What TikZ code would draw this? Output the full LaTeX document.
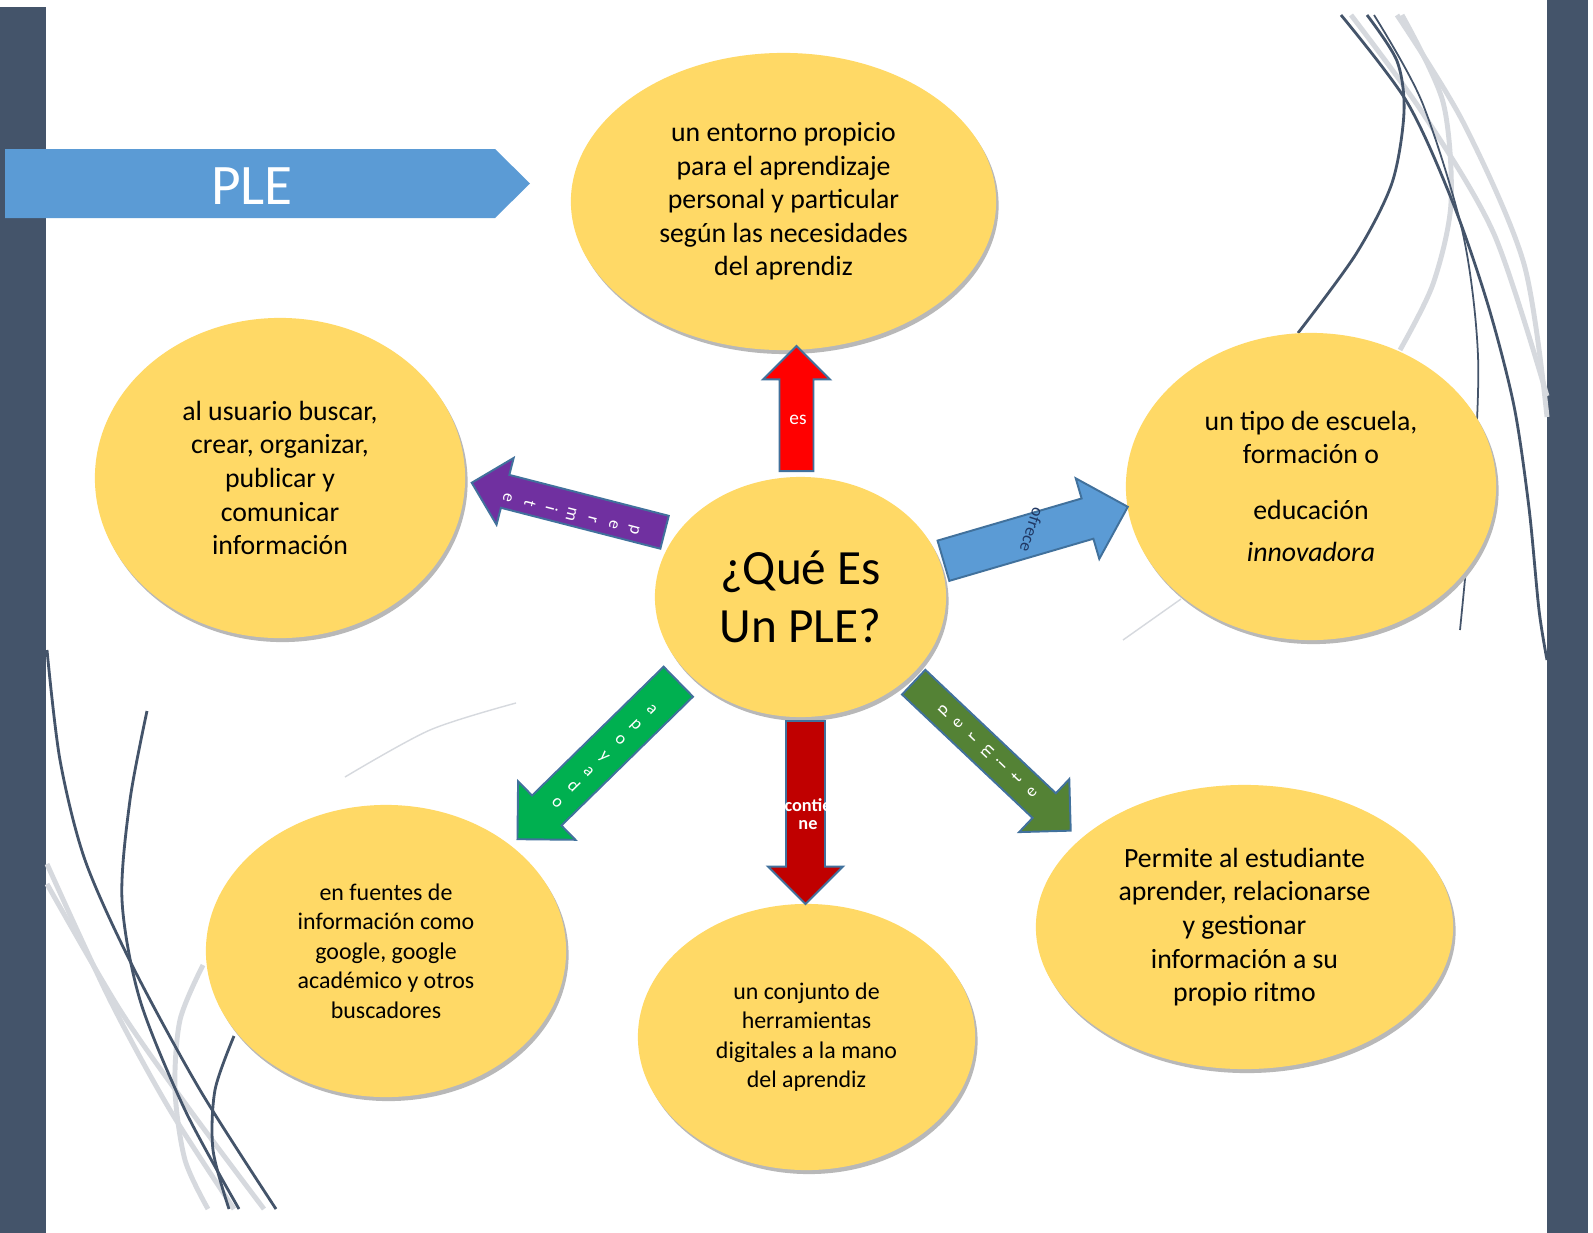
\documentclass[tikz,border=0pt]{standalone}
\usepackage{fontspec}
\setmainfont{Carlito}
\usetikzlibrary{shapes.geometric,shapes.arrows,shadows}

\definecolor{bandgray}{HTML}{44546A}
\definecolor{swooshgray}{HTML}{D6D9DE}
\definecolor{bubblefill}{HTML}{FFD966}
\definecolor{bannerblue}{HTML}{5B9BD5}
\definecolor{arrowedge}{HTML}{41719C}
\definecolor{esred}{HTML}{FF0000}
\definecolor{darkred}{HTML}{C00000}
\definecolor{lilac}{HTML}{7030A0}
\definecolor{leafgreen}{HTML}{00B050}
\definecolor{olivegreen}{HTML}{548235}
\definecolor{navytext}{HTML}{203864}

\tikzset{
  bubble/.style={ellipse, fill=bubblefill, inner sep=0pt, align=center,
    drop shadow={shadow xshift=0.025cm, shadow yshift=-0.04cm, fill=black!28, opacity=1},
    font=\fontsize{7.9}{9.55}\selectfont},
  smallbubble/.style={bubble, font=\fontsize{6.8}{8.4}\selectfont},
  blockarrow/.style={single arrow, draw=arrowedge, line width=0.55pt, anchor=tail,
    inner xsep=0pt, minimum width=0pt},
  arrowword/.style={text=white, inner sep=0pt, align=center, font=\fontsize{5.5}{6}\selectfont},
  stackletter/.style={text=white, inner sep=0pt, text height=3.6pt, text depth=1.1pt,
    font=\fontsize{5}{6}\selectfont},
  swoosh/.style={draw=bandgray, line width=0.8pt},
  lightswoosh/.style={draw=swooshgray, line width=1.4pt},
}

\begin{document}
\begin{tikzpicture}[x=0.01cm, y=-0.01cm]
    \useasboundingbox[fill=white] (0,0) rectangle (1593,1233);

    % side bands
    \fill[bandgray] (0,7) rectangle (46,1233);
    \fill[bandgray] (1547,0) rectangle (1588,1233);

    % swooshes top right
    \draw[lightswoosh] plot[smooth] coordinates {(1351,15) (1422,112) (1494,234) (1547,396)};
    \draw[lightswoosh] plot[smooth] coordinates {(1397,15) (1463,122) (1524,264) (1547,417)};
    \draw[lightswoosh] plot[smooth] coordinates {(1402,15) (1443,102) (1451,203) (1433,284) (1400,350)};
    \draw[swoosh] plot[smooth] coordinates {(1341,15) (1407,102) (1453,203) (1488,305) (1514,406) (1529,508) (1539,610) (1547,660)};
    \draw[swoosh] plot[smooth] coordinates {(1367,15) (1397,61) (1404,112) (1392,183) (1356,254) (1298,333)};
    \draw[swoosh, line width=0.5pt] plot[smooth] coordinates {(1374,15) (1422,102) (1463,234) (1478,356) (1473,488) (1460,630)};
    \draw[swooshgray, line width=0.4pt] (1123,640) -- (1181,599);

    % swooshes bottom left
    \draw[lightswoosh] plot[smooth] coordinates {(47,864) (110,1000) (170,1110) (234,1209)};
    \draw[lightswoosh] plot[smooth] coordinates {(47,884) (120,1010) (190,1110) (264,1209)};
    \draw[lightswoosh] plot[smooth] coordinates {(203,965) (180,1020) (175,1090) (185,1160) (208,1209)};
    \draw[swoosh] plot[smooth] coordinates {(47,650) (60,760) (85,860) (132,965) (200,1090) (276,1209)};
    \draw[swoosh] plot[smooth] coordinates {(147,711) (130,800) (122,900) (140,1000) (185,1110) (239,1209)};
    \draw[swoosh] plot[smooth] coordinates {(234,1036) (215,1090) (213,1150) (229,1209)};
    \draw[swooshgray, line width=0.4pt] plot[smooth] coordinates {(345,777) (430,730) (516,703)};

    % title banner
    \fill[bannerblue] (5,149) -- (495,149) -- (530,183.5) -- (495,218) -- (5,218) -- cycle;
    \node[text=white, font=\fontsize{16.3}{18}\selectfont] (ple) at (252,186) {PLE};

    % bubbles
    \node[bubble, minimum width=4.25cm, minimum height=2.97cm] (entorno) at (783.5,201.5)
        {un entorno propicio\\para el aprendizaje\\personal y particular\\según las necesidades\\del aprendiz};
    \node[bubble, minimum width=3.7cm, minimum height=3.2cm] (usuario) at (280,478)
        {al usuario buscar,\\crear, organizar,\\publicar y\\comunicar\\información};
    \node[bubble, minimum width=3.7cm, minimum height=3.07cm] (escuela) at (1311,486.5)
        {un tipo de escuela,\\formación o\\[6.3pt]educación\\[2.4pt]\textit{innovadora}};
    \node[bubble, minimum width=2.91cm, minimum height=2.4cm, font=\fontsize{14}{16.5}\selectfont] (que) at (800.5,597)
        {¿Qué Es\\Un PLE?};
    \node[smallbubble, minimum width=3.6cm, minimum height=2.92cm] (fuentes) at (386,951)
        {en fuentes de\\información como\\google, google\\académico y otros\\buscadores};
    \node[smallbubble, minimum width=3.37cm, minimum height=2.66cm] (conjunto) at (806.5,1037)
        {un conjunto de\\herramientas\\digitales a la mano\\del aprendiz};
    \node[bubble, minimum width=4.17cm, minimum height=2.84cm] (ritmo) at (1244.5,927)
        {Permite al estudiante\\aprender, relacionarse\\y gestionar\\información a su\\propio ritmo};

    % block arrows
    \node[blockarrow, fill=esred, rotate=90, minimum height=1.25cm, inner ysep=0.16cm,
        single arrow head extend=0.165cm] (esarrow) at (796.5,472) {};
    \node[blockarrow, fill=darkred, rotate=-90, minimum height=1.83cm, inner ysep=0.185cm,
        single arrow head extend=0.18cm] (contarrow) at (805.5,720) {};
    \node[blockarrow, fill=bannerblue, rotate=16.3, minimum height=1.92cm, inner ysep=0.2cm,
        single arrow head extend=0.21cm] (ofarrow) at (942.5,561) {};
    \node[blockarrow, fill=lilac, rotate=165.6, minimum height=1.99cm, inner ysep=0.16cm,
        single arrow head extend=0.175cm] (permarrow) at (665.5,532.5) {};
    \node[blockarrow, fill=leafgreen, rotate=224.4, minimum height=2.25cm, inner ysep=0.2cm,
        single arrow head extend=0.2cm] (apoarrow) at (679,681) {};
    \node[blockarrow, fill=olivegreen, rotate=-43.4, minimum height=2.16cm, inner ysep=0.16cm,
        single arrow head extend=0.195cm] (ritarrow) at (913,681.5) {};

    % arrow words
    \node[arrowword] (es) at (798,420) {es};
    \node[arrowword, font=\bfseries\fontsize{5.2}{5.2}\selectfont] (contiene) at (808,814) {contie\\ne};
    \node[arrowword, text=navytext, font=\fontsize{5}{6}\selectfont, rotate=-108] (ofrece) at (1032,530) {ofrece};
    \foreach \l [count=\i from 0] in {p,e,r,m,i,t,e}
        \node[stackletter, rotate=-104.4] (perm-\i) at ({635-21.2*\i},{530-5.3*\i}) {\l};
    \foreach \l [count=\i from 0] in {a,p,o,y,a,d,o}
        \node[stackletter, rotate=-45.7] (apo-\i) at ({652-15.8*\i},{709+15.6*\i}) {\l};
    \foreach \l [count=\i from 0] in {p,e,r,m,i,t,e}
        \node[stackletter, rotate=46.2] (rit-\i) at ({943+14.8*\i},{710+13.7*\i}) {\l};

\end{tikzpicture}
\end{document}
